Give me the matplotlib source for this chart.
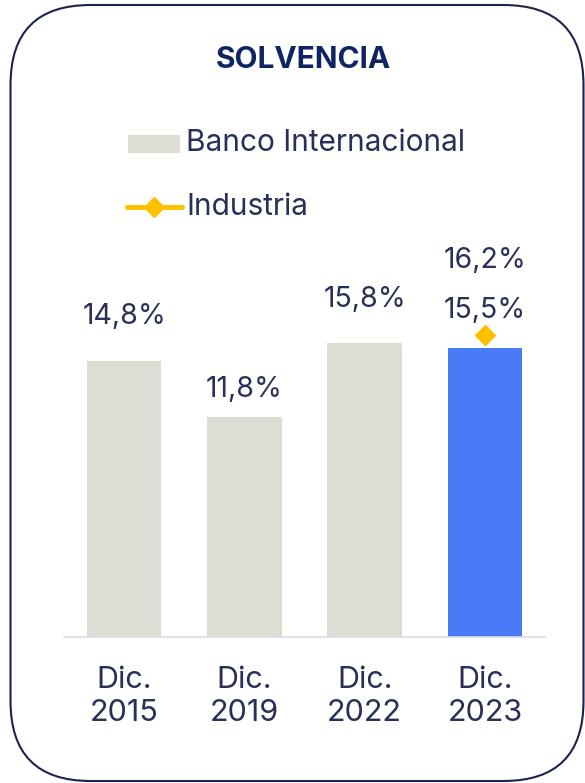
import matplotlib
matplotlib.use("Agg")
from matplotlib import pyplot as plt
from matplotlib.patches import FancyBboxPatch, Rectangle
from matplotlib.lines import Line2D
from matplotlib.transforms import IdentityTransform

# Chart data
periods = ["Dic.\n2015", "Dic.\n2019", "Dic.\n2022", "Dic.\n2023"]
banco = [14.8, 11.8, 15.8, 15.5]
industria_period = "Dic.\n2023"
industria = [16.2]

# Styling
bar_color = "#DEDDD3"
last_color = "#4A7BF7"
gold = "#FFC000"
text_color = "#282F58"
title_color = "#0F2462"
border_color = "#1C2150"

# label offsets above bar tops (pixels)
label_gap = [37, 20, 36, 30]

W, H = 585, 783
plt.rcParams['font.family'] = ['Inter', 'DejaVu Sans']

fig = plt.figure(figsize=(W / 100, H / 100), dpi=100)

def fx(px):
  return px / W

def fy(py):
  return 1 - py / H

# rounded frame
frame = FancyBboxPatch((10.5, 2), 573, 776, boxstyle="round,pad=0,rounding_size=80",
                       transform=IdentityTransform(), facecolor="none",
                       edgecolor=border_color, linewidth=1.5)
fig.add_artist(frame)

fig.text(fx(303), fy(60), "SOLVENCIA", ha="center", va="center",
         fontsize=21.5, fontweight="bold", color=title_color)

# legend, drawn by hand
fig.add_artist(Rectangle((fx(128), fy(153)), fx(52), 18 / H, transform=fig.transFigure,
                         facecolor=bar_color, edgecolor="none"))
fig.text(fx(186), fy(143), "Banco Internacional", ha="left", va="center",
         fontsize=21.5, color=text_color)
fig.add_artist(Line2D([fx(127), fx(182)], [fy(207), fy(207)], transform=fig.transFigure,
                      color=gold, linewidth=3.6, solid_capstyle="round"))
fig.add_artist(Line2D([fx(154)], [fy(207)], transform=fig.transFigure,
                      color=gold, marker="D", markersize=10, linestyle="none"))
fig.text(fx(186), fy(207), "Industria", ha="left", va="center",
         fontsize=21.5, color=text_color)

# plot area
ax = fig.add_axes([fx(64), 146 / H, 481 / W, 372.6 / H])
x = list(range(len(periods)))
colors = [bar_color] * (len(periods) - 1) + [last_color]
ax.bar(x, banco, width=0.62, color=colors)
ax.set_xlim(-0.5, len(periods) - 0.5)
ax.set_ylim(0, 20)

ind_x = [periods.index(industria_period)]
ax.plot(ind_x, industria, linestyle="none", marker="D", markersize=10, color=gold)

for i, v in enumerate(banco):
  ax.annotate(f"{v:.1f}%".replace(".", ","), (i, v), xytext=(0, label_gap[i] * 0.72),
              textcoords="offset points", ha="center", va="baseline",
              fontsize=20.5, color=text_color)

for i, v in zip(ind_x, industria):
  ax.annotate(f"{v:.1f}%".replace(".", ","), (i, v), xytext=(0, 67 * 0.72),
              textcoords="offset points", ha="center", va="baseline",
              fontsize=20.5, color=text_color)

ax.set_xticks(x)
ax.set_xticklabels(periods, fontsize=22, color=text_color, linespacing=1.2)
ax.tick_params(axis="x", length=0, pad=21)
ax.set_yticks([])
for s in ["top", "left", "right"]:
  ax.spines[s].set_visible(False)
ax.spines["bottom"].set_color("#DCDCE8")
ax.spines["bottom"].set_linewidth(1.2)
ax.set_facecolor("none")

fig.savefig("out.png", dpi=100, facecolor="white")
